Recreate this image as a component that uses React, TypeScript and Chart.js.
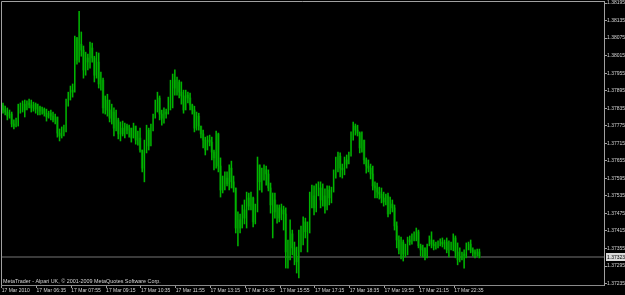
import { useEffect, useRef } from 'react';
import { Chart, registerables } from 'chart.js';

Chart.register(...registerables);

// Time labels: one every 16 five-minute bars
const timeLabels = [
  '17 Mar 2010', '17 Mar 06:35', '17 Mar 07:55', '17 Mar 09:15', '17 Mar 10:35',
  '17 Mar 11:55', '17 Mar 13:15', '17 Mar 14:35', '17 Mar 15:55', '17 Mar 17:15',
  '17 Mar 18:35', '17 Mar 19:55', '17 Mar 21:15', '17 Mar 22:35',
];
const barsPerLabel = 16;

const priceTicks = [
  1.37235, 1.37295, 1.37355, 1.37415, 1.37475, 1.37535, 1.37595, 1.37655, 1.37715,
  1.37775, 1.37835, 1.37895, 1.37955, 1.38015, 1.38075, 1.38135, 1.38195,
];
const bidPrice = 1.37323;
const copyrightText = 'MetaTrader - Alpari UK, \u00a9 2001-2009 MetaQuotes Software Corp.';

const highs = [
  1.37853, 1.37842, 1.37836, 1.37829, 1.37822, 1.37795, 1.37801, 1.37849, 1.37853, 1.37860,
  1.37863, 1.37860, 1.37866, 1.37863, 1.37856, 1.37853, 1.37849, 1.37842, 1.37839, 1.37836,
  1.37832, 1.37825, 1.37829, 1.37822, 1.37815, 1.37805, 1.37764, 1.37771, 1.37777, 1.37866,
  1.37890, 1.37911, 1.37918, 1.38082, 1.38078, 1.38167, 1.38096, 1.38048, 1.38027, 1.38020,
  1.38061, 1.38058, 1.38013, 1.38027, 1.38024, 1.37959, 1.37938, 1.37877, 1.37883, 1.37863,
  1.37849, 1.37836, 1.37829, 1.37801, 1.37788, 1.37791, 1.37784, 1.37781, 1.37777, 1.37767,
  1.37784, 1.37774, 1.37757, 1.37767, 1.37692, 1.37726, 1.37777, 1.37767, 1.37781, 1.37815,
  1.37863, 1.37890, 1.37877, 1.37829, 1.37836, 1.37832, 1.37873, 1.37931, 1.37952, 1.37966,
  1.37942, 1.37931, 1.37925, 1.37897, 1.37897, 1.37890, 1.37887, 1.37849, 1.37842, 1.37822,
  1.37818, 1.37774, 1.37760, 1.37736, 1.37740, 1.37743, 1.37736, 1.37692, 1.37757, 1.37750,
  1.37665, 1.37603, 1.37617, 1.37617, 1.37641, 1.37654, 1.37603, 1.37562, 1.37480, 1.37473,
  1.37504, 1.37521, 1.37548, 1.37545, 1.37548, 1.37531, 1.37507, 1.37668, 1.37641, 1.37630,
  1.37641, 1.37637, 1.37624, 1.37579, 1.37545, 1.37545, 1.37504, 1.37504, 1.37507, 1.37500,
  1.37494, 1.37384, 1.37453, 1.37418, 1.37377, 1.37360, 1.37418, 1.37432, 1.37463, 1.37459,
  1.37446, 1.37548, 1.37572, 1.37569, 1.37576, 1.37583, 1.37583, 1.37576, 1.37559, 1.37569,
  1.37569, 1.37565, 1.37624, 1.37668, 1.37685, 1.37682, 1.37644, 1.37668, 1.37675, 1.37685,
  1.37754, 1.37788, 1.37781, 1.37777, 1.37754, 1.37754, 1.37726, 1.37665, 1.37658, 1.37644,
  1.37637, 1.37583, 1.37579, 1.37565, 1.37562, 1.37548, 1.37541, 1.37545, 1.37531, 1.37521,
  1.37504, 1.37446, 1.37398, 1.37394, 1.37384, 1.37370, 1.37394, 1.37398, 1.37405, 1.37412,
  1.37425, 1.37418, 1.37370, 1.37367, 1.37357, 1.37370, 1.37398, 1.37412, 1.37384, 1.37377,
  1.37381, 1.37388, 1.37391, 1.37384, 1.37391, 1.37381, 1.37377, 1.37405, 1.37398, 1.37374,
  1.37357, 1.37343, 1.37350, 1.37374, 1.37377, 1.37384, 1.37357, 1.37350, 1.37353, 1.37353,
];

const lows = [
  1.37818, 1.37812, 1.37795, 1.37801, 1.37771, 1.37764, 1.37771, 1.37774, 1.37818, 1.37822,
  1.37805, 1.37829, 1.37836, 1.37822, 1.37825, 1.37818, 1.37812, 1.37812, 1.37815, 1.37808,
  1.37791, 1.37801, 1.37795, 1.37788, 1.37781, 1.37736, 1.37723, 1.37733, 1.37740, 1.37754,
  1.37842, 1.37863, 1.37873, 1.37890, 1.37986, 1.37993, 1.38013, 1.37938, 1.37948, 1.37966,
  1.37972, 1.37993, 1.37925, 1.37938, 1.37904, 1.37897, 1.37818, 1.37815, 1.37808, 1.37788,
  1.37781, 1.37740, 1.37757, 1.37730, 1.37723, 1.37740, 1.37733, 1.37747, 1.37736, 1.37719,
  1.37733, 1.37712, 1.37709, 1.37685, 1.37617, 1.37583, 1.37682, 1.37692, 1.37706, 1.37757,
  1.37801, 1.37822, 1.37795, 1.37777, 1.37784, 1.37801, 1.37815, 1.37829, 1.37836, 1.37880,
  1.37880, 1.37870, 1.37849, 1.37818, 1.37829, 1.37853, 1.37829, 1.37815, 1.37754, 1.37760,
  1.37760, 1.37733, 1.37699, 1.37675, 1.37692, 1.37706, 1.37658, 1.37624, 1.37630, 1.37617,
  1.37531, 1.37545, 1.37555, 1.37569, 1.37555, 1.37562, 1.37548, 1.37408, 1.37364, 1.37408,
  1.37425, 1.37439, 1.37425, 1.37487, 1.37487, 1.37429, 1.37439, 1.37480, 1.37555, 1.37548,
  1.37589, 1.37572, 1.37552, 1.37476, 1.37391, 1.37459, 1.37442, 1.37446, 1.37453, 1.37418,
  1.37288, 1.37288, 1.37316, 1.37333, 1.37299, 1.37271, 1.37254, 1.37343, 1.37367, 1.37391,
  1.37343, 1.37408, 1.37494, 1.37470, 1.37480, 1.37535, 1.37494, 1.37500, 1.37476, 1.37487,
  1.37504, 1.37511, 1.37548, 1.37596, 1.37617, 1.37600, 1.37596, 1.37607, 1.37630, 1.37644,
  1.37671, 1.37726, 1.37743, 1.37740, 1.37682, 1.37685, 1.37644, 1.37613, 1.37617, 1.37593,
  1.37555, 1.37528, 1.37528, 1.37524, 1.37511, 1.37500, 1.37504, 1.37463, 1.37473, 1.37480,
  1.37418, 1.37357, 1.37336, 1.37319, 1.37312, 1.37326, 1.37333, 1.37367, 1.37370, 1.37381,
  1.37381, 1.37357, 1.37329, 1.37326, 1.37316, 1.37323, 1.37364, 1.37357, 1.37350, 1.37353,
  1.37357, 1.37364, 1.37360, 1.37353, 1.37340, 1.37326, 1.37350, 1.37347, 1.37323, 1.37299,
  1.37309, 1.37316, 1.37288, 1.37323, 1.37350, 1.37340, 1.37329, 1.37323, 1.37329, 1.37323,
];

const opens = [
  1.37846, 1.37829, 1.37822, 1.37808, 1.37815, 1.37781, 1.37777, 1.37791, 1.37836, 1.37842,
  1.37849, 1.37829, 1.37853, 1.37846, 1.37836, 1.37849, 1.37832, 1.37839, 1.37825, 1.37832,
  1.37818, 1.37805, 1.37818, 1.37808, 1.37795, 1.37805, 1.37750, 1.37740, 1.37757, 1.37767,
  1.37856, 1.37877, 1.37897, 1.37890, 1.38075, 1.38000, 1.38054, 1.38034, 1.37966, 1.38007,
  1.37993, 1.38041, 1.38007, 1.37948, 1.37993, 1.37918, 1.37931, 1.37836, 1.37863, 1.37829,
  1.37801, 1.37822, 1.37767, 1.37795, 1.37747, 1.37767, 1.37747, 1.37774, 1.37760, 1.37767,
  1.37733, 1.37774, 1.37726, 1.37733, 1.37692, 1.37630, 1.37699, 1.37760, 1.37706, 1.37767,
  1.37805, 1.37849, 1.37870, 1.37815, 1.37801, 1.37822, 1.37815, 1.37863, 1.37914, 1.37931,
  1.37904, 1.37925, 1.37890, 1.37877, 1.37829, 1.37880, 1.37870, 1.37846, 1.37829, 1.37767,
  1.37808, 1.37774, 1.37747, 1.37726, 1.37692, 1.37726, 1.37719, 1.37685, 1.37665, 1.37747,
  1.37637, 1.37555, 1.37583, 1.37596, 1.37576, 1.37630, 1.37583, 1.37562, 1.37425, 1.37453,
  1.37425, 1.37487, 1.37459, 1.37528, 1.37500, 1.37528, 1.37446, 1.37487, 1.37641, 1.37583,
  1.37603, 1.37624, 1.37610, 1.37562, 1.37504, 1.37521, 1.37480, 1.37494, 1.37459, 1.37487,
  1.37473, 1.37343, 1.37364, 1.37405, 1.37357, 1.37323, 1.37309, 1.37384, 1.37412, 1.37446,
  1.37412, 1.37432, 1.37528, 1.37535, 1.37494, 1.37555, 1.37562, 1.37521, 1.37535, 1.37500,
  1.37555, 1.37528, 1.37548, 1.37610, 1.37651, 1.37671, 1.37630, 1.37624, 1.37658, 1.37644,
  1.37675, 1.37740, 1.37774, 1.37760, 1.37750, 1.37699, 1.37726, 1.37658, 1.37637, 1.37630,
  1.37610, 1.37569, 1.37562, 1.37548, 1.37541, 1.37528, 1.37514, 1.37535, 1.37473, 1.37507,
  1.37494, 1.37432, 1.37384, 1.37350, 1.37377, 1.37336, 1.37357, 1.37384, 1.37377, 1.37391,
  1.37398, 1.37412, 1.37364, 1.37350, 1.37357, 1.37329, 1.37364, 1.37384, 1.37370, 1.37364,
  1.37370, 1.37374, 1.37377, 1.37370, 1.37377, 1.37350, 1.37364, 1.37370, 1.37391, 1.37343,
  1.37316, 1.37329, 1.37336, 1.37323, 1.37364, 1.37370, 1.37350, 1.37343, 1.37336, 1.37343,
];

const closes = [
  1.37829, 1.37822, 1.37808, 1.37818, 1.37781, 1.37774, 1.37791, 1.37836, 1.37842, 1.37849,
  1.37829, 1.37853, 1.37846, 1.37836, 1.37849, 1.37832, 1.37839, 1.37825, 1.37832, 1.37818,
  1.37805, 1.37818, 1.37808, 1.37795, 1.37805, 1.37750, 1.37740, 1.37757, 1.37767, 1.37856,
  1.37877, 1.37897, 1.37890, 1.38075, 1.38000, 1.38054, 1.38034, 1.37966, 1.38007, 1.37993,
  1.38041, 1.38007, 1.37948, 1.37993, 1.37918, 1.37931, 1.37836, 1.37863, 1.37829, 1.37801,
  1.37822, 1.37767, 1.37795, 1.37747, 1.37767, 1.37747, 1.37774, 1.37760, 1.37767, 1.37733,
  1.37774, 1.37726, 1.37733, 1.37692, 1.37630, 1.37699, 1.37760, 1.37706, 1.37767, 1.37805,
  1.37849, 1.37870, 1.37815, 1.37801, 1.37822, 1.37815, 1.37863, 1.37914, 1.37931, 1.37904,
  1.37925, 1.37890, 1.37877, 1.37829, 1.37880, 1.37870, 1.37846, 1.37829, 1.37767, 1.37808,
  1.37774, 1.37747, 1.37726, 1.37692, 1.37726, 1.37719, 1.37685, 1.37665, 1.37747, 1.37637,
  1.37555, 1.37583, 1.37596, 1.37576, 1.37630, 1.37583, 1.37562, 1.37425, 1.37453, 1.37425,
  1.37487, 1.37459, 1.37528, 1.37500, 1.37528, 1.37446, 1.37487, 1.37641, 1.37583, 1.37603,
  1.37624, 1.37610, 1.37562, 1.37504, 1.37521, 1.37480, 1.37494, 1.37459, 1.37487, 1.37473,
  1.37343, 1.37364, 1.37405, 1.37357, 1.37323, 1.37309, 1.37384, 1.37412, 1.37446, 1.37412,
  1.37432, 1.37528, 1.37535, 1.37494, 1.37555, 1.37562, 1.37521, 1.37535, 1.37500, 1.37555,
  1.37528, 1.37548, 1.37610, 1.37651, 1.37671, 1.37630, 1.37624, 1.37658, 1.37644, 1.37675,
  1.37740, 1.37774, 1.37760, 1.37750, 1.37699, 1.37726, 1.37658, 1.37637, 1.37630, 1.37610,
  1.37569, 1.37562, 1.37548, 1.37541, 1.37528, 1.37514, 1.37535, 1.37473, 1.37507, 1.37494,
  1.37432, 1.37384, 1.37350, 1.37377, 1.37336, 1.37357, 1.37384, 1.37377, 1.37391, 1.37398,
  1.37412, 1.37364, 1.37350, 1.37357, 1.37329, 1.37364, 1.37384, 1.37370, 1.37364, 1.37370,
  1.37374, 1.37377, 1.37370, 1.37377, 1.37350, 1.37364, 1.37370, 1.37391, 1.37343, 1.37316,
  1.37329, 1.37336, 1.37323, 1.37364, 1.37370, 1.37350, 1.37343, 1.37336, 1.37343, 1.37323,
];

const FONT = '"Liberation Sans", Arial, sans-serif';
const TEXT = '#d4d4d4';
const AXIS = '#a0a0a0';

export default function App() {
  const ref = useRef<HTMLCanvasElement>(null);

  useEffect(() => {
    document.body.style.margin = '0';
    document.body.style.background = '#000';
    const canvas = ref.current;
    if (!canvas) return;

    const idx = highs.map((_, i) => i);
    const wicks = idx.map((i) => ({ x: i, y: [lows[i], highs[i]] }));
    const bodies = idx.map((i) => ({ x: i, y: [opens[i], closes[i]] }));
    const bodyColors = idx.map((i) => (closes[i] < opens[i] ? '#005200' : 'rgba(0,0,0,0)'));

    const chrome = {
      id: 'mtChrome',
      beforeDraw(chart: any) {
        const { ctx, width, height } = chart;
        ctx.save();
        ctx.fillStyle = '#000';
        ctx.fillRect(0, 0, width, height);
        ctx.restore();
      },
      beforeDatasetsDraw(chart: any) {
        const { ctx, chartArea, scales } = chart;
        const py = Math.round(scales.y.getPixelForValue(bidPrice)) - 1;
        ctx.save();
        ctx.fillStyle = '#3a3a3a';
        ctx.fillRect(chartArea.left, py - 1, chartArea.right - chartArea.left, 2);
        ctx.restore();
      },
      afterDraw(chart: any) {
        const { ctx, chartArea, scales } = chart;
        const { left, right, top, bottom } = chartArea;
        ctx.save();
        ctx.strokeStyle = AXIS;
        ctx.lineWidth = 1;
        ctx.beginPath();
        ctx.moveTo(left + 0.5, bottom);
        ctx.lineTo(left + 0.5, top + 0.5);
        ctx.lineTo(right, top + 0.5);
        ctx.stroke();

        const py = Math.round(scales.y.getPixelForValue(bidPrice)) - 1;
        ctx.fillStyle = '#d8d8d8';
        ctx.fillRect(right + 2, py - 4, 625 - right - 2, 8);
        ctx.fillStyle = '#000';
        ctx.font = `5px ${FONT}`;
        ctx.textBaseline = 'middle';
        ctx.textAlign = 'left';
        ctx.fillText(bidPrice.toFixed(5), right + 3, py + 0.5);

        ctx.fillStyle = TEXT;
        ctx.font = `5.4px ${FONT}`;
        ctx.textBaseline = 'alphabetic';
        ctx.fillText(copyrightText, left + 2, bottom - 2);
        ctx.restore();
      },
    };

    const chart = new Chart(canvas, {
      type: 'bar',
      data: {
        datasets: [
          {
            data: wicks as any,
            backgroundColor: '#00b400',
            barThickness: 0.9,
            grouped: false,
            order: 1,
            borderWidth: 0,
          },
          {
            data: bodies as any,
            backgroundColor: bodyColors,
            barThickness: 2,
            grouped: false,
            order: 2,
            borderWidth: 0,
          },
        ],
      },
      options: {
        responsive: false,
        animation: false,
        devicePixelRatio: 1,
        events: [],
        layout: { padding: { top: 1, left: 1, right: 0, bottom: 0 } },
        plugins: { legend: { display: false }, tooltip: { enabled: false } },
        scales: {
          x: {
            type: 'linear',
            min: -0.92,
            max: 276.3,
            offset: false,
            grid: { offset: false, drawOnChartArea: false, drawTicks: true, tickLength: 3, color: AXIS },
            border: { display: true, color: '#8a8a8a', width: 1 },
            ticks: {
              align: 'start',
              autoSkip: false,
              maxRotation: 0,
              padding: 0,
              color: TEXT,
              font: { family: FONT, size: 5 },
              callback: (v: any) => timeLabels[Math.round((Number(v) + 0.6) / barsPerLabel)] ?? '',
            },
            afterBuildTicks: (s: any) => {
              s.ticks = timeLabels.map((_, k) => ({ value: k * barsPerLabel - 0.6 }));
            },
            afterFit: (s: any) => {
              s.height = 10;
              s.paddingLeft = 0;
              s.paddingRight = 0;
            },
          },
          y: {
            type: 'linear',
            position: 'right',
            min: 1.3723,
            max: 1.38202,
            beginAtZero: false,
            grid: { drawOnChartArea: false, drawTicks: true, tickLength: 3, color: AXIS },
            border: { display: true, color: AXIS, width: 1 },
            ticks: {
              padding: 0,
              color: TEXT,
              font: { family: FONT, size: 5 },
              callback: (v: any) => Number(v).toFixed(5),
            },
            afterBuildTicks: (s: any) => {
              s.ticks = priceTicks.map((v) => ({ value: v }));
            },
            afterFit: (s: any) => {
              s.width = 21;
              s.paddingTop = 0;
              s.paddingBottom = 0;
            },
          },
        },
      } as any,
      plugins: [chrome],
    });

    return () => chart.destroy();
  }, []);

  return <canvas ref={ref} width={625} height={295} style={{ display: 'block' }} />;
}
